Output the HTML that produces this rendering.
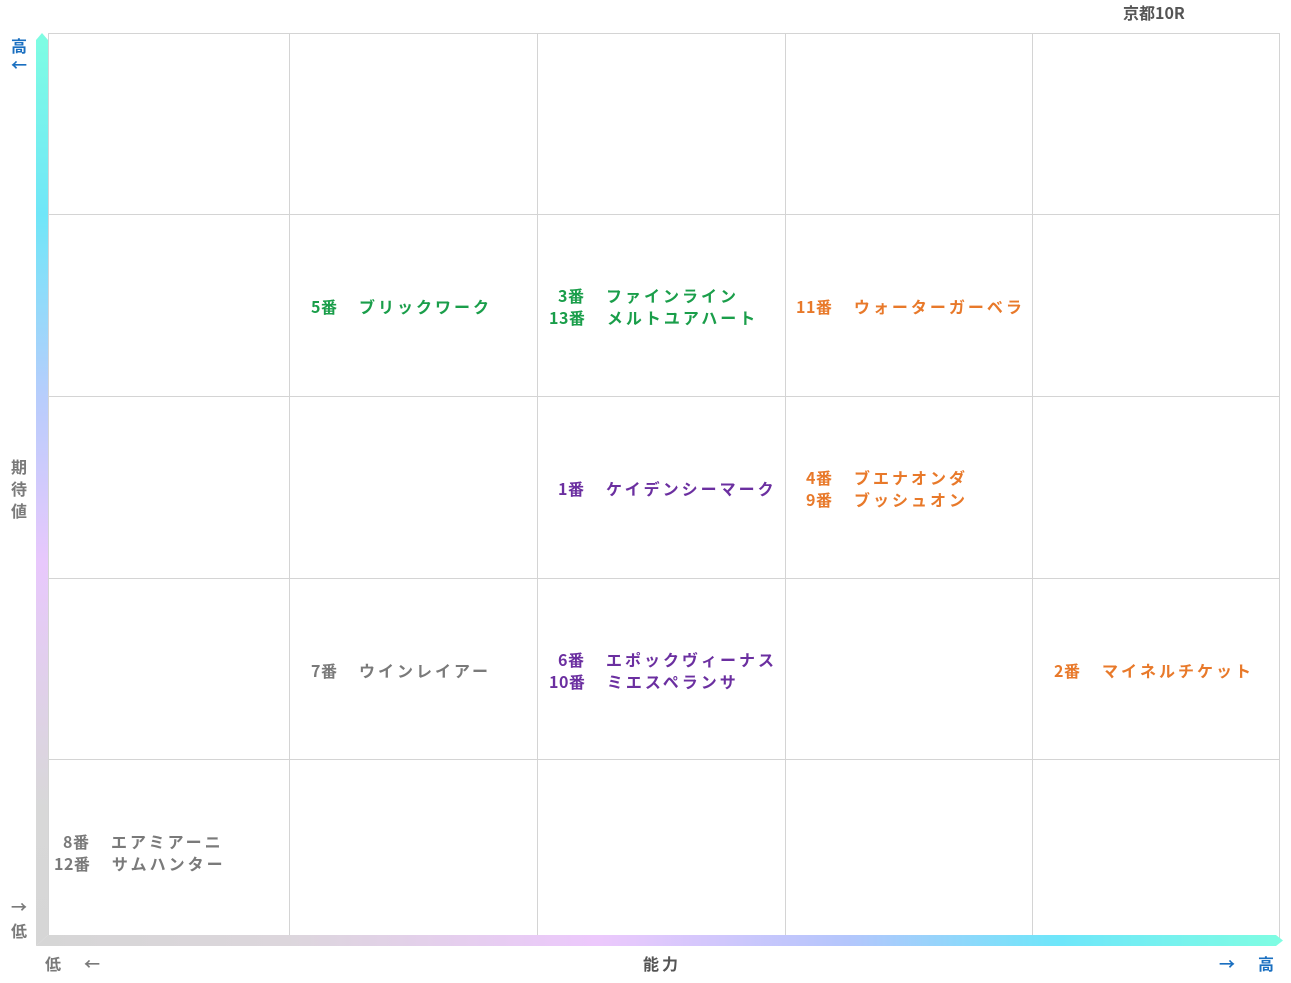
<!DOCTYPE html>
<html><head><meta charset="utf-8"><style>
body{margin:0;width:1291px;height:983px;background:#fff;position:relative;overflow:hidden;font-family:"Liberation Sans","Noto Sans CJK JP",sans-serif;}
.t{position:absolute;font-weight:bold;font-size:16px;letter-spacing:3px;line-height:22px;white-space:pre;transform:translateY(-11px);font-family:"Noto Sans CJK JP",sans-serif;}
.t i{font-style:normal;letter-spacing:0.5px;}
.g{color:#1a9e4a}.o{color:#e8792a}.p{color:#6b2fa0}.y{color:#7a7a7a}.b{color:#1a6fc0}
</style></head><body>
<svg width="1291" height="983" style="position:absolute;left:0;top:0">
<defs>
<linearGradient id="v" x1="0" y1="0" x2="0" y2="1">
<stop offset="0" stop-color="#7ffde2"/><stop offset="0.2" stop-color="#70e6f8"/><stop offset="0.4" stop-color="#b8cdfc"/><stop offset="0.58" stop-color="#e8c8fc"/><stop offset="0.85" stop-color="#d8d8d8"/><stop offset="1" stop-color="#d6d6d6"/></linearGradient>
<linearGradient id="h" x1="0" y1="0" x2="1" y2="0">
<stop offset="0" stop-color="#d6d6d6"/><stop offset="0.2" stop-color="#dcd6dc"/><stop offset="0.45" stop-color="#ecc8fc"/><stop offset="0.65" stop-color="#b4c6fc"/><stop offset="0.82" stop-color="#6ee6fa"/><stop offset="1" stop-color="#7ffde2"/></linearGradient>
</defs>
<g stroke="#d4d4d4" stroke-width="1" fill="none">
<rect x="48.5" y="33.5" width="1231" height="906"/>
<line x1="289.5" y1="33" x2="289.5" y2="940"/><line x1="537.5" y1="33" x2="537.5" y2="940"/><line x1="785.5" y1="33" x2="785.5" y2="940"/><line x1="1032.5" y1="33" x2="1032.5" y2="940"/>
<line x1="48" y1="214.5" x2="1280" y2="214.5"/><line x1="48" y1="396.5" x2="1280" y2="396.5"/><line x1="48" y1="578.5" x2="1280" y2="578.5"/><line x1="48" y1="759.5" x2="1280" y2="759.5"/>
</g>
<polygon points="36,40 42,33 48,40 48,935 36,946" fill="url(#v)"/>
<polygon points="36,946 48,935 1276,935 1283,940.5 1276,946" fill="url(#h)"/>
</svg>
<div class="t" style="left:1123px;top:12px;color:#555;letter-spacing:0">京都10R</div>
<div class="t b" style="left:11px;top:45px">高</div>
<div class="t b" style="left:11px;top:64px">←</div>
<div class="t y" style="left:11px;top:466px">期</div>
<div class="t y" style="left:11px;top:488px">待</div>
<div class="t y" style="left:11px;top:510px">値</div>
<div class="t y" style="left:11px;top:906px">→</div>
<div class="t y" style="left:11px;top:930px">低</div>
<div class="t y" style="left:45px;top:963px">低</div>
<div class="t y" style="left:84px;top:963px">←</div>
<div class="t" style="left:643px;top:963px;color:#555">能力</div>
<div class="t b" style="left:1219px;top:963px">→</div>
<div class="t b" style="left:1258px;top:963px">高</div>

<div class="t g" style="left:311px;top:306px"><i>5</i>番　ブリックワーク</div>
<div class="t g" style="left:558px;top:295px"><i>3</i>番　ファインライン</div>
<div class="t g" style="left:549px;top:317px"><i>13</i>番　メルトユアハート</div>
<div class="t o" style="left:796px;top:306px"><i>11</i>番　ウォーターガーベラ</div>
<div class="t p" style="left:558px;top:488px"><i>1</i>番　ケイデンシーマーク</div>
<div class="t o" style="left:806px;top:477px"><i>4</i>番　ブエナオンダ</div>
<div class="t o" style="left:806px;top:499px"><i>9</i>番　ブッシュオン</div>
<div class="t y" style="left:311px;top:670px"><i>7</i>番　ウインレイアー</div>
<div class="t p" style="left:558px;top:659px"><i>6</i>番　エポックヴィーナス</div>
<div class="t p" style="left:549px;top:681px"><i>10</i>番　ミエスペランサ</div>
<div class="t o" style="left:1054px;top:670px"><i>2</i>番　マイネルチケット</div>
<div class="t y" style="left:63px;top:841px"><i>8</i>番　エアミアーニ</div>
<div class="t y" style="left:54px;top:863px"><i>12</i>番　サムハンター</div>
</body></html>
